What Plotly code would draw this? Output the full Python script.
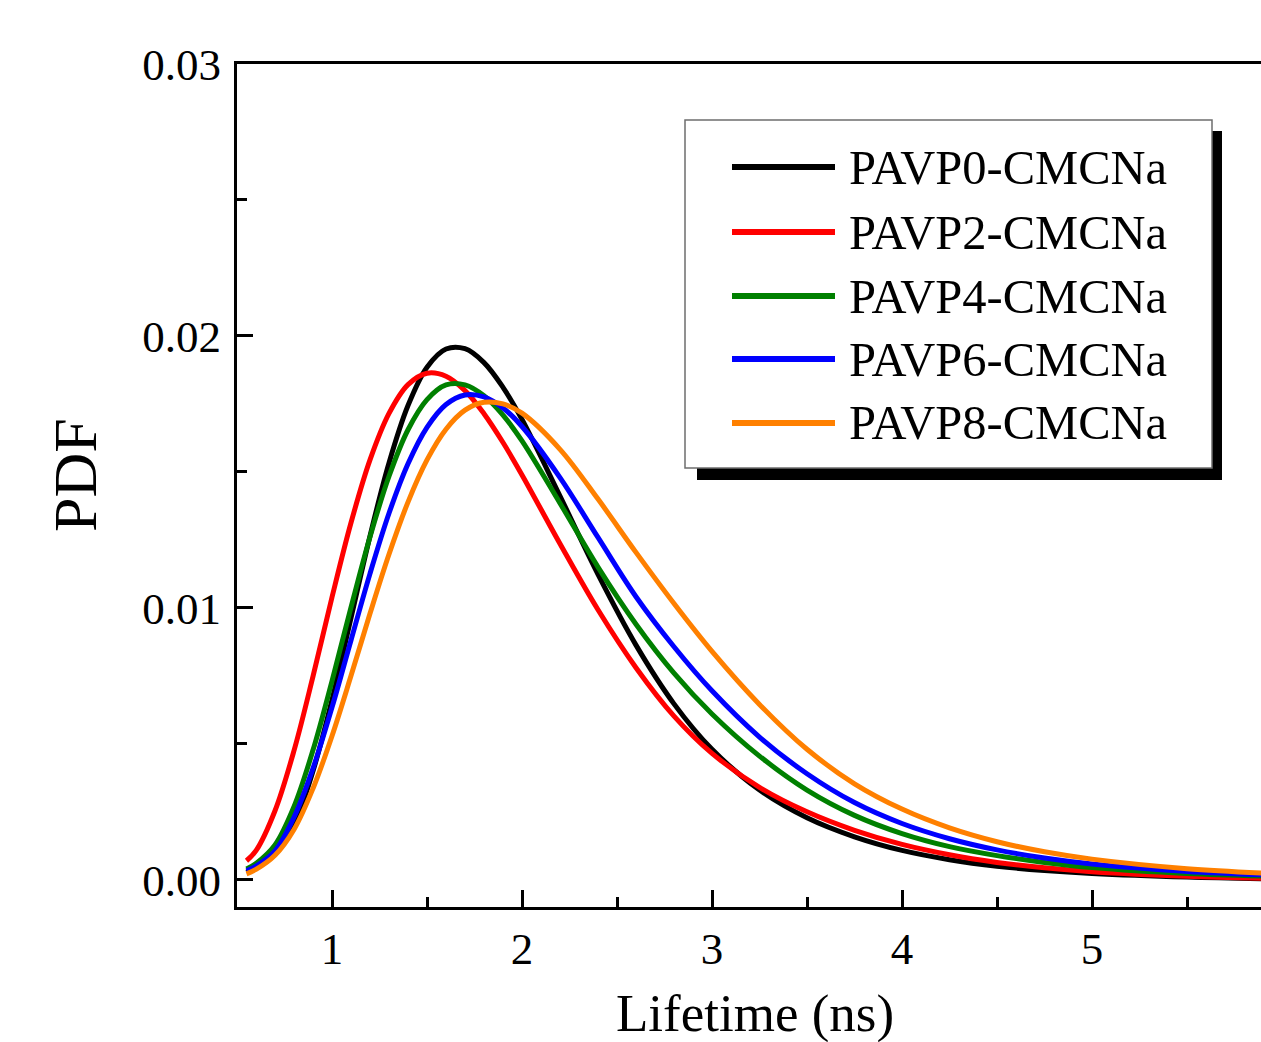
import plotly.graph_objects as go

# ---------------- data ----------------
lifetime_ns = [0.55, 0.6, 0.7, 0.8, 0.9, 1.0, 1.1, 1.2, 1.3, 1.4, 1.5, 1.6, 1.7, 1.8, 1.9,
               2.0, 2.2, 2.4, 2.6, 2.8, 3.0, 3.25, 3.5, 3.75, 4.0, 4.25, 4.5, 4.75, 5.0,
               5.5, 6.0]

pdf_pavp0 = [0.00028, 0.00045, 0.00095, 0.00203, 0.0040, 0.00662, 0.00963, 0.01264, 0.01533,
             0.01744, 0.01885, 0.01952, 0.01953, 0.01902, 0.01811, 0.01693, 0.01411, 0.01123,
             0.00863, 0.00647, 0.0048, 0.0033, 0.00228, 0.00158, 0.00108, 0.00074, 0.0005,
             0.00034, 0.00023, 0.0001, 0.00003]
pdf_pavp2 = [0.0007, 0.00107, 0.00254, 0.00475, 0.00748, 0.01039, 0.01313, 0.01544, 0.01715,
             0.01821, 0.01863, 0.01852, 0.01799, 0.01714, 0.01608, 0.01489, 0.01236, 0.00993,
             0.0078, 0.00602, 0.00465, 0.0034, 0.0025, 0.00182, 0.0013, 0.00092, 0.00064,
             0.00044, 0.0003, 0.00013, 0.00004]
pdf_pavp4 = [0.0004, 0.0006, 0.00128, 0.00269, 0.00477, 0.00731, 0.01002, 0.01261, 0.01484,
             0.01655, 0.01766, 0.0182, 0.0182, 0.0178, 0.01709, 0.01614, 0.01385, 0.0115,
             0.0094, 0.0076, 0.0061, 0.00455, 0.0033, 0.00237, 0.0017, 0.00122, 0.00089,
             0.00064, 0.00045, 0.00023, 0.00012]
pdf_pavp6 = [0.00033, 0.0005, 0.00106, 0.0023, 0.0041, 0.00634, 0.00881, 0.01126, 0.01348,
             0.0153, 0.01664, 0.01748, 0.01783, 0.01776, 0.01735, 0.01667, 0.01479, 0.01259,
             0.01041, 0.00857, 0.00695, 0.00525, 0.0039, 0.00284, 0.00207, 0.00151, 0.0011,
             0.0008, 0.00058, 0.00031, 0.00016]
pdf_pavp8 = [0.00022, 0.00038, 0.0009, 0.00185, 0.00336, 0.00529, 0.0075, 0.00979, 0.01197,
             0.01389, 0.01544, 0.01657, 0.01727, 0.01756, 0.0175, 0.01716, 0.01583, 0.0140,
             0.01204, 0.01016, 0.0084, 0.00645, 0.0048, 0.00353, 0.0026, 0.00191, 0.0014,
             0.00103, 0.00076, 0.00041, 0.00022]

series_names = ["PAVP0-CMCNa", "PAVP2-CMCNa", "PAVP4-CMCNa", "PAVP6-CMCNa", "PAVP8-CMCNa"]
series_values = [pdf_pavp0, pdf_pavp2, pdf_pavp4, pdf_pavp6, pdf_pavp8]
series_colors = ["#000000", "#FF0000", "#008000", "#0000FF", "#FF8000"]

x_tick_vals = [1, 2, 3, 4, 5]
y_tick_vals = [0.00, 0.01, 0.02, 0.03]
y_tick_text = ["0.00", "0.01", "0.02", "0.03"]

# ---------------- figure ----------------
W, H = 1261, 1042
L, R, T, B = 237, 0, 64, 135
FONT = "Liberation Serif, Times New Roman, serif"


def px_x(p):
    return (p - L) / (W - L - R)


def px_y(p):
    return (H - B - p) / (H - B - T)


fig = go.Figure()
for name, vals, col in zip(series_names, series_values, series_colors):
    fig.add_trace(go.Scatter(x=lifetime_ns, y=vals, mode="lines", name=name,
                             line=dict(color=col, width=5, shape="spline", smoothing=1.0),
                             showlegend=False))

fig.update_layout(
    width=W, height=H,
    margin=dict(l=L, r=R, t=T, b=B, pad=0),
    paper_bgcolor="white", plot_bgcolor="white",
    font=dict(family=FONT, color="black", size=45),
    showlegend=False,
)

fig.update_xaxes(
    range=[0.5, 0.5 + (W - L - R) / 190.0],
    tickmode="array", tickvals=x_tick_vals, ticktext=[str(v) for v in x_tick_vals],
    ticks="inside", ticklen=17, tickwidth=2.5, tickcolor="black",
    minor=dict(ticks="inside", ticklen=10, tickwidth=2.5, tickcolor="black",
               tickmode="linear", tick0=0.5, dtick=0.5),
    showline=True, linecolor="black", linewidth=3, mirror=True,
    showgrid=False, zeroline=False,
    tickfont=dict(family=FONT, size=45, color="black"),
    ticklabelstandoff=0,
)
fig.update_yaxes(
    range=[-0.001, 0.03],
    tickmode="array", tickvals=y_tick_vals, ticktext=y_tick_text,
    ticks="inside", ticklen=16, tickwidth=2.5, tickcolor="black",
    minor=dict(ticks="inside", ticklen=10, tickwidth=2.5, tickcolor="black",
               tickmode="linear", tick0=0.0, dtick=0.005),
    showline=True, linecolor="black", linewidth=3, mirror=False,
    showgrid=False, zeroline=False,
    tickfont=dict(family=FONT, size=45, color="black"),
    ticklabelstandoff=4,
)

# axis titles
fig.add_annotation(text="Lifetime (ns)", xref="paper", yref="paper",
                   x=px_x(755), y=px_y(1014), xanchor="center", yanchor="middle",
                   showarrow=False, font=dict(family=FONT, size=53, color="black"))
fig.add_annotation(text="PDF", xref="paper", yref="paper",
                   x=px_x(75), y=px_y(475), xanchor="center", yanchor="middle",
                   textangle=-90, showarrow=False,
                   font=dict(family=FONT, size=62, color="black"))

# legend box (drawn) with drop shadow
shapes = [
    dict(type="rect", xref="paper", yref="paper",
         x0=px_x(697), x1=px_x(1222), y0=px_y(480), y1=px_y(131),
         fillcolor="black", line=dict(width=0), layer="above"),
    dict(type="rect", xref="paper", yref="paper",
         x0=px_x(685), x1=px_x(1212), y0=px_y(468), y1=px_y(120),
         fillcolor="white", line=dict(color="#6e6e6e", width=1.5), layer="above"),
]
row_y = [167, 232, 296, 359, 423]
for name, col, ry in zip(series_names, series_colors, row_y):
    shapes.append(dict(type="line", xref="paper", yref="paper",
                       x0=px_x(732), x1=px_x(835), y0=px_y(ry), y1=px_y(ry),
                       line=dict(color=col, width=6), layer="above"))
    fig.add_annotation(text=name, xref="paper", yref="paper",
                       x=px_x(847), y=px_y(ry), xanchor="left", yanchor="middle",
                       showarrow=False, font=dict(family=FONT, size=48.5, color="black"))
fig.update_layout(shapes=shapes)

fig.write_html("out.html", config={"displayModeBar": False},
               post_script="document.body.style.margin='0';document.body.style.overflow='hidden';")
